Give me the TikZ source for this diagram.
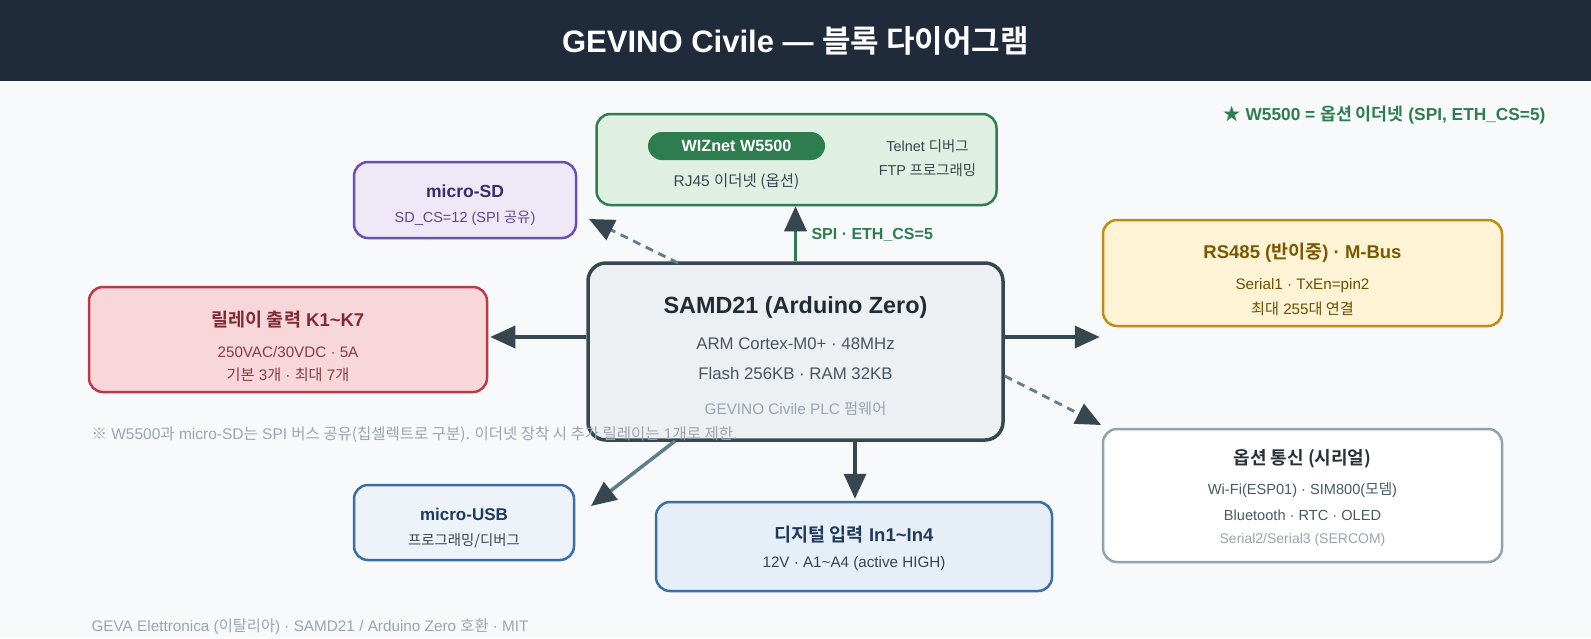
\documentclass[tikz,border=0pt]{standalone}
\usepackage{fontspec}
\setmainfont{Liberation Sans}
\newfontfamily\kr{Noto Sans CJK KR}[BoldFont={Noto Sans CJK KR Bold}]
\usepackage{xcolor}
\usepackage{tikz}
\usetikzlibrary{arrows.meta,positioning,shapes}

\newcommand\ko[1]{{\kr #1}}
\newcommand\fsz[1]{\fontsize{#1}{#1}\selectfont}
\newcommand\tld{\textasciitilde}

\definecolor{headbg}{HTML}{1F2A3A}
\definecolor{pagebg}{HTML}{F7F9FB}
\definecolor{darkline}{HTML}{37474F}
\definecolor{grayline}{HTML}{607D8B}
\definecolor{ethgreen}{HTML}{2E7D4F}
\definecolor{ethfill}{HTML}{DFF0E3}
\definecolor{sdfill}{HTML}{EFE8F6}
\definecolor{sdline}{HTML}{6A4FB5}
\definecolor{sdtext}{HTML}{3A2A6E}
\definecolor{sdsub}{HTML}{5E4B8B}
\definecolor{relfill}{HTML}{F8D7DA}
\definecolor{relline}{HTML}{B83B4B}
\definecolor{reltext}{HTML}{7F2A35}
\definecolor{relsub}{HTML}{8A3A45}
\definecolor{mcufill}{HTML}{ECF0F3}
\definecolor{mcutext}{HTML}{212B33}
\definecolor{mcusub}{HTML}{4A5560}
\definecolor{mutetext}{HTML}{9AA5B0}
\definecolor{rsfill}{HTML}{FFF3D6}
\definecolor{rsline}{HTML}{C08C12}
\definecolor{rstext}{HTML}{7A5800}
\definecolor{rssub}{HTML}{6B5000}
\definecolor{optline}{HTML}{90A4AE}
\definecolor{opttext}{HTML}{263238}
\definecolor{optsub}{HTML}{455A64}
\definecolor{usbfill}{HTML}{EEF3FA}
\definecolor{dinfill}{HTML}{E6EEF8}
\definecolor{blueline}{HTML}{3A6EA5}
\definecolor{bluetext}{HTML}{1F3A5A}

\begin{document}
\begin{tikzpicture}[x=1pt,y=-1pt,
  blk/.style={draw,rounded corners=14pt,line width=2.5pt,inner sep=0pt},
  ttl/.style={font=\fsz{18.5}\bfseries},
  sub/.style={font=\fsz{15.2}},
  small/.style={font=\fsz{14},text=mutetext},
  link/.style={line width=3.5pt,draw=darkline,-{Triangle[length=25pt,width=22pt,color=darkline]}},
  optlink/.style={line width=2.8pt,draw=grayline,dash pattern=on 8pt off 6pt,-{Triangle[length=25pt,width=22pt,color=darkline]}}]
\useasboundingbox (0,0) rectangle (1591,638);
\fill[pagebg] (0,0) rectangle (1591,638);
\fill[headbg] (0,0) rectangle (1591,81);
\node[text=white,font=\fsz{31}\bfseries] (title) at (795.5,41) {GEVINO Civile --- \ko{블록 다이어그램}};
\node[anchor=east,text=ethgreen,font=\fsz{17.3}\bfseries] (star) at (1549,115) {\ko{★} W5500 = \ko{옵션 이더넷} (SPI, ETH\_CS=5)};

% blocks
\node[blk,fill=ethfill,draw=ethgreen,minimum width=400pt,minimum height=91pt] (w5500) at (796.5,159.5) {};
\node[fill=ethgreen,rounded corners=14pt,minimum width=177pt,minimum height=28pt,text=white,font=\fsz{16.2}\bfseries] (wiz) at (736.5,146) {WIZnet W5500};
\node[sub,font=\fsz{15.5},text=darkline] (rj45) at (736.5,182) {RJ45 \ko{이더넷 (옵션)}};
\node[sub,font=\fsz{14.4},text=darkline] (telnet) at (927.5,146) {Telnet \ko{디버그}};
\node[sub,font=\fsz{14.4},text=darkline] (ftp) at (927.5,170) {FTP \ko{프로그래밍}};

\node[blk,fill=sdfill,draw=sdline,minimum width=222pt,minimum height=76pt] (sd) at (465,200) {};
\node[ttl,font=\fsz{17.5}\bfseries,text=sdtext] at (465,191) {micro-SD};
\node[sub,font=\fsz{14.5},text=sdsub] at (465,218) {SD\_CS=12 (SPI \ko{공유})};

\node[blk,fill=relfill,draw=relline,minimum width=398pt,minimum height=105pt] (relay) at (288,339.5) {};
\node[ttl,text=reltext] at (288,320) {\ko{릴레이 출력} K1\tld K7};
\node[sub,text=relsub] at (288,352) {250VAC/30VDC · 5A};
\node[sub,text=relsub] at (288,375) {\ko{기본} 3\ko{개} · \ko{최대} 7\ko{개}};

\node[blk,fill=mcufill,draw=darkline,line width=3.5pt,rounded corners=18pt,minimum width=415pt,minimum height=177pt] (samd) at (795.5,351.5) {};
\node[text=mcutext,font=\fsz{23.4}\bfseries] at (795.5,307) {SAMD21 (Arduino Zero)};
\node[text=mcusub,font=\fsz{16.8}] at (795.5,344) {ARM Cortex-M0+ · 48MHz};
\node[text=mcusub,font=\fsz{16.8}] at (795.5,373) {Flash 256KB · RAM 32KB};
\node[small,font=\fsz{15.3}] at (795.5,409) {GEVINO Civile PLC \ko{펌웨어}};

\node[blk,fill=rsfill,draw=rsline,minimum width=399pt,minimum height=106pt] (rs485) at (1302.5,273) {};
\node[ttl,text=rstext] at (1302.5,253) {RS485 (\ko{반이중}) · M-Bus};
\node[sub,text=rssub] at (1302.5,286) {Serial1 · TxEn=pin2};
\node[sub,text=rssub] at (1302.5,309) {\ko{최대} 255\ko{대 연결}};

\node[blk,fill=white,draw=optline,minimum width=399pt,minimum height=133pt] (opt) at (1302.5,495.5) {};
\node[ttl,font=\fsz{18}\bfseries,text=opttext] at (1302.5,459) {\ko{옵션 통신 (시리얼)}};
\node[sub,font=\fsz{14.6},text=optsub] at (1302.5,490) {Wi-Fi(ESP01) · SIM800(\ko{모뎀})};
\node[sub,font=\fsz{14.6},text=optsub] at (1302.5,515) {Bluetooth · RTC · OLED};
\node[small] at (1302.5,540) {Serial2/Serial3 (SERCOM)};

\node[blk,fill=usbfill,draw=blueline,minimum width=220pt,minimum height=75pt] (usb) at (464,522.5) {};
\node[ttl,font=\fsz{17}\bfseries,text=bluetext] at (464,514) {micro-USB};
\node[sub,font=\fsz{14.4},text=darkline] at (464,541) {\ko{프로그래밍/디버그}};

\node[blk,fill=dinfill,draw=blueline,minimum width=396pt,minimum height=89pt] (din) at (854,546.5) {};
\node[ttl,text=bluetext] at (854,535) {\ko{디지털 입력} In1\tld In4};
\node[sub,text=darkline] at (854,564) {12V · A1\tld A4 (active HIGH)};

% connectors
\coordinate (sdtip) at (589,219);
\coordinate (opttip) at (1101,425);
\coordinate (usbtip) at (591,506);
\draw[link,draw=ethgreen] (samd.north) -- (samd.north |- w5500.south);
\node[anchor=west,text=ethgreen,font=\fsz{16}\bfseries] (spi) at (808,235) {SPI · ETH\_CS=5};
\draw[optlink] (678,263) -- (sdtip);
\draw[link] (samd.west |- 0,337) -- ([xshift=2pt]relay.east |- 0,337);
\draw[link] (samd.east |- 0,337) -- ([xshift=-2pt]rs485.west |- 0,337);
\draw[optlink] (samd.east |- 0,376) -- (opttip);
\draw[link,draw=grayline] (675,441) -- (usbtip);
\draw[link] (855,441) -- ([yshift=2pt]din.north -| 855,0);

\node[anchor=west,small,font=\fsz{15.5}] (note) at (88,435) {\ko{※} W5500\ko{과} micro-SD\ko{는} SPI \ko{버스 공유(칩셀렉트로 구분). 이더넷 장착 시 추가 릴레이는} 1\ko{개로 제한.}};
\node[anchor=west,small,font=\fsz{15.3}] (foot) at (88,627) {GEVA Elettronica (\ko{이탈리아}) · SAMD21 / Arduino Zero \ko{호환} · MIT};
\end{tikzpicture}
\end{document}
